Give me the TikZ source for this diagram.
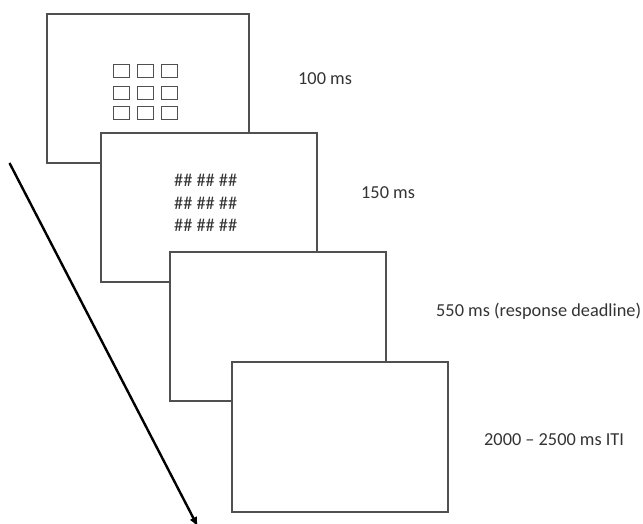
\documentclass[tikz,border=0pt]{standalone}
\usepackage{fontspec}
\setmainfont{Carlito}
\usetikzlibrary{arrows.meta}
\definecolor{framegray}{HTML}{505050}
\definecolor{txtgray}{HTML}{333333}
\tikzset{
  screen/.style={draw=framegray, line width=1.3pt, fill=white, inner sep=0pt, outer sep=0pt},
  cell/.style={draw=framegray, line width=0.8pt, fill=white, inner sep=0pt, minimum width=16pt, minimum height=13pt},
  lbl/.style={anchor=base west, inner sep=0pt, text=txtgray, font=\fontsize{18.3pt}{22pt}\selectfont},
  hashes/.style={anchor=base west, inner sep=0pt, text=txtgray, font=\fontsize{18.3pt}{22pt}\selectfont},
  timearrow/.style={line width=2.4pt, -{Latex[length=10pt,width=8pt]}}
}
\begin{document}
\begin{tikzpicture}[x=1pt,y=-1pt]
\useasboundingbox (0,0) rectangle (643,524);
% frames
\node[screen, minimum width=202pt, minimum height=149pt] (f1) at (148,88.5) {};
\foreach \r/\yy in {1/70.5,2/92.5,3/112.5}{
  \foreach \c/\xx in {1/121,2/145,3/169}{
    \node[cell] (sq-\r-\c) at (\xx,\yy) {};
  }
}
\node[screen, minimum width=216pt, minimum height=149pt] (f2) at (209,207.5) {};
\node[hashes] (h1) at (174,187) {\#\# \#\# \#\#};
\node[hashes] (h2) at (174,209.5) {\#\# \#\# \#\#};
\node[hashes] (h3) at (174,232) {\#\# \#\# \#\#};
\node[screen, minimum width=216pt, minimum height=149pt] (f3) at (278,326.5) {};
\node[screen, minimum width=216pt, minimum height=150pt] (f4) at (340,437) {};
% labels
\node[lbl] (l1) at (298,85) {100 ms};
\node[lbl] (l2) at (361,199) {150 ms};
\node[lbl] (l3) at (436,316) {550 ms (response deadline)};
\node[lbl] (l4) at (484,445) {2000 – 2500 ms ITI};
% time arrow
\coordinate (astart) at (9.5,163);
\coordinate (aend) at (198,527);
\draw[timearrow] (astart) -- (aend);
\end{tikzpicture}
\end{document}
